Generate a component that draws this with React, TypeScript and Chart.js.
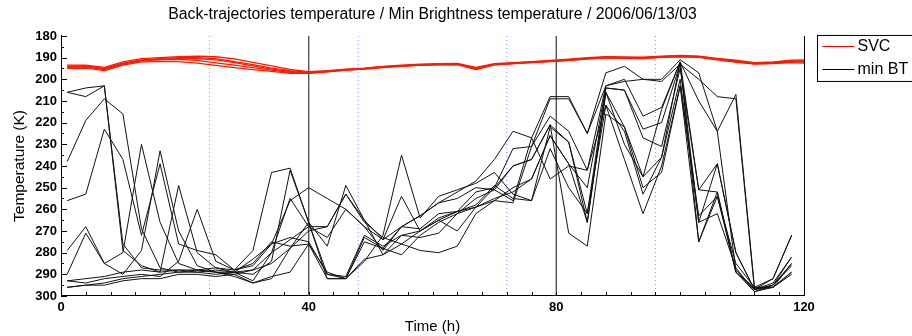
import React, { useEffect, useRef } from "react";
import { Chart, registerables } from "chart.js";
Chart.register(...registerables);

const hours = [1, 4, 7, 10, 13, 16, 19, 22, 25, 28, 31, 34, 37, 40, 43, 46, 49, 52, 55, 58, 61, 64, 67, 70, 73, 76, 79, 82, 85, 88, 91, 94, 97, 100, 103, 106, 109, 112, 115, 118];
const svcHours = [1, 4, 7, 10, 13, 16, 19, 22, 25, 28, 31, 34, 37, 40, 43, 46, 49, 52, 55, 58, 61, 64, 67, 70, 73, 76, 79, 82, 85, 88, 91, 94, 97, 100, 103, 106, 109, 112, 115, 118, 120];

const svc1 = [193.5, 193.5, 194.5, 192, 190.5, 190, 189.5, 189.3, 189.6, 190.6, 192.2, 193.8, 195.4, 196.5, 196, 195.3, 194.8, 194, 193.5, 193, 192.8, 192.7, 194.5, 192.8, 192.3, 191.8, 191.3, 190.7, 190, 189.5, 189.7, 189.8, 189.3, 189, 189.3, 190.3, 191.2, 192.3, 192, 191.2, 191];
const svc2 = [194, 194, 195, 192.5, 191, 190.5, 190, 190, 190.5, 191.8, 193.2, 194.8, 196, 196.8, 196.2, 195.5, 195, 194.2, 193.7, 193.2, 193, 192.9, 195, 193, 192.5, 192, 191.5, 191, 190.3, 189.8, 190, 190, 189.5, 189.2, 189.5, 190.6, 191.6, 192.6, 192.2, 191.6, 191.5];
const svc3 = [194.5, 194.3, 195.5, 193, 191.5, 191, 190.8, 191.3, 192.4, 193.5, 194.6, 195.8, 196.8, 197.1, 196.4, 195.7, 195.2, 194.4, 193.9, 193.4, 193.2, 193.1, 195.3, 193.2, 192.7, 192.2, 191.7, 191.2, 190.5, 190, 190.2, 190.2, 189.7, 189.4, 189.7, 190.8, 191.9, 192.8, 192.5, 192, 192];
const svc4 = [195, 194.8, 196, 193.5, 192, 191.8, 191.8, 192.5, 193.6, 194.6, 195.5, 196.3, 197.2, 197.3, 196.6, 195.8, 195.3, 194.6, 194, 193.5, 193.3, 193.2, 195.5, 193.3, 192.8, 192.3, 191.8, 191.3, 190.7, 190.1, 190.3, 190.4, 189.9, 189.6, 189.9, 191, 192.1, 193, 192.7, 192.3, 192.5];
const svc5 = [194, 193.8, 195.2, 192.8, 191.3, 190.8, 190.3, 190.5, 191, 192.3, 193.8, 195.3, 196.3, 196.9, 196.3, 195.6, 195.1, 194.3, 193.8, 193.3, 193.1, 193, 194.8, 193.1, 192.6, 192.1, 191.6, 191.1, 190.4, 189.9, 190.1, 190.1, 189.6, 189.3, 189.6, 190.7, 191.8, 192.7, 192.3, 191.8, 191.8];

const bt1 = [206, 204, 203, 276, 287, 288, 288, 288, 287, 288, 279, 243, 241, 266, 290, 292, 273, 278, 268, 263, 257, 252, 247, 237, 224, 227, 208, 208, 225, 197, 194, 200, 200, 191, 197, 224, 207, 296, 292, 272];
const bt2 = [206, 208, 203, 279, 286, 289, 288, 289, 288, 289, 283, 276, 256, 250, 255, 260, 268, 274, 254, 270, 265, 261, 259, 250, 232, 231, 217, 224, 242, 203, 200, 217, 213, 192, 275, 252, 289, 297, 295, 282];
const bt3 = [238, 219, 209, 216, 269, 287, 289, 288, 289, 289, 288, 280, 274, 268, 268, 253, 265, 281, 272, 273, 271, 262, 255, 251, 240, 237, 221, 229, 262, 204, 205, 223, 220, 193, 266, 239, 280, 297, 296, 285];
const bt4 = [256, 253, 223, 237, 272, 239, 276, 279, 281, 288, 285, 275, 277, 276, 292, 292, 283, 281, 276, 279, 280, 277, 262, 256, 250, 246, 226, 239, 266, 206, 222, 245, 236, 192, 251, 252, 289, 296, 296, 289];
const bt5 = [279, 268, 285, 280, 230, 266, 285, 288, 289, 290, 294, 291, 289, 276, 289, 292, 284, 272, 235, 264, 254, 251, 248, 243, 253, 256, 232, 250, 262, 212, 237, 262, 240, 203, 263, 254, 289, 298, 295, 286];
const bt6 = [290, 271, 285, 290, 279, 233, 270, 286, 289, 291, 294, 292, 278, 266, 292, 292, 275, 278, 281, 272, 266, 262, 259, 256, 257, 231, 209, 209, 225, 203, 201, 200, 201, 193, 200, 208, 209, 297, 292, 272];
const bt7 = [293, 292, 291, 289, 288, 289, 249, 280, 287, 289, 290, 284, 242, 266, 277, 249, 265, 274, 268, 269, 262, 261, 252, 250, 240, 237, 221, 271, 277, 216, 222, 250, 243, 203, 275, 254, 285, 296, 296, 290];
const bt8 = [293, 294, 292, 291, 290, 291, 284, 260, 284, 288, 286, 276, 273, 275, 290, 291, 272, 277, 272, 270, 265, 270, 259, 255, 252, 246, 226, 239, 250, 204, 205, 227, 231, 195, 251, 239, 280, 297, 295, 285];
const bt9 = [296, 295, 294, 292, 291, 290, 289, 289, 290, 289, 293, 280, 255, 268, 273, 260, 268, 279, 268, 263, 257, 255, 250, 251, 256, 227, 246, 240, 242, 212, 224, 253, 236, 200, 266, 262, 287, 298, 296, 289];
const bt10 = [296, 295, 295, 293, 292, 292, 290, 290, 291, 290, 288, 285, 278, 270, 268, 253, 266, 273, 276, 270, 264, 261, 258, 249, 255, 256, 222, 229, 266, 206, 230, 245, 214, 192, 210, 224, 288, 297, 294, 282];

const svcRuns = [svc1, svc2, svc3, svc4, svc5];
const btRuns = [bt1, bt2, bt3, bt4, bt5, bt6, bt7, bt8, bt9, bt10];
const dottedHours = [24, 48, 72, 96];
const solidHours = [40, 80];
const tempRange = [180, 300];
const xLabelStep = 40;
const yLabelStep = 10;
const titleText = "Back-trajectories temperature / Min Brightness temperature / 2006/06/13/03";
const legendItems = [
  { label: "SVC", color: "#ff0000" },
  { label: "min BT", color: "#000000" },
];

const FONT = "'Liberation Sans', Arial, Helvetica, sans-serif";

const framePlugin = {
  id: "frame",
  afterDraw(chart: any) {
    const { ctx, chartArea } = chart;
    const xs = chart.scales.x;
    const ys = chart.scales.y;
    ctx.save();
    ctx.strokeStyle = "#000";
    ctx.lineWidth = 1;
    ctx.beginPath();
    ctx.moveTo(Math.round(chartArea.right) + 0.5, chartArea.top);
    ctx.lineTo(Math.round(chartArea.right) + 0.5, chartArea.bottom);
    ctx.stroke();
    ctx.beginPath();
    xs.ticks.forEach((t: any) => {
      const px = Math.round(xs.getPixelForValue(t.value)) + 0.5;
      ctx.moveTo(px, chartArea.bottom);
      ctx.lineTo(px, chartArea.bottom - 4);
    });
    ys.ticks.forEach((t: any) => {
      const py = Math.round(ys.getPixelForValue(t.value)) + 0.5;
      const len = t.value % yLabelStep === 0 ? 6 : 3;
      ctx.moveTo(chartArea.left, py);
      ctx.lineTo(chartArea.left + len, py);
    });
    ctx.stroke();
    const lx = chartArea.right + 13.5;
    const ly = chartArea.top - 0.5;
    ctx.strokeStyle = "#000";
    ctx.strokeRect(lx, ly, 140, 46);
    ctx.font = `16px ${FONT}`;
    ctx.textBaseline = "middle";
    legendItems.forEach((it, i) => {
      const y = Math.round(ly + 11 + i * 22.5) + 0.5;
      ctx.strokeStyle = it.color;
      ctx.beginPath();
      ctx.moveTo(lx + 5, y);
      ctx.lineTo(lx + 37, y);
      ctx.stroke();
      ctx.fillStyle = "#000";
      ctx.fillText(it.label, lx + 40, y + 0.5);
    });
    ctx.restore();
  },
};

export default function App() {
  const ref = useRef<HTMLCanvasElement>(null);
  useEffect(() => {
    Chart.defaults.font.family = FONT;
    Chart.defaults.color = "#000";
    const datasets: any[] = [];
    svcRuns.forEach((run, k) => {
      datasets.push({
        label: "SVC " + k,
        data: svcHours.map((h, i) => ({ x: h, y: run[i] })),
        borderColor: "#ff1a00",
        borderWidth: 1.3,
        pointRadius: 0,
        tension: 0,
        order: 1,
      });
    });
    btRuns.forEach((run, k) => {
      datasets.push({
        label: "min BT " + k,
        data: hours.map((h, i) => ({ x: h, y: run[i] })),
        borderColor: "#111",
        borderWidth: 1,
        pointRadius: 0,
        tension: 0,
        order: 2,
      });
    });
    solidHours.forEach((h) => {
      datasets.push({
        label: "solid " + h,
        data: [{ x: h, y: tempRange[0] }, { x: h, y: tempRange[1] }],
        borderColor: "#555",
        borderWidth: 1,
        pointRadius: 0,
        order: 5,
      });
    });
    dottedHours.forEach((h) => {
      datasets.push({
        label: "dotted " + h,
        data: [{ x: h, y: tempRange[0] }, { x: h, y: tempRange[1] }],
        borderColor: "#7f8fff",
        borderWidth: 1,
        borderDash: [1, 3],
        pointRadius: 0,
        order: 5,
      });
    });

    const chart = new Chart(ref.current as HTMLCanvasElement, {
      type: "line",
      data: { datasets },
      plugins: [framePlugin],
      options: {
        animation: false,
        responsive: false,
        events: [],
        layout: { padding: { left: 0, right: 108, top: 0, bottom: 0 } },
        plugins: {
          legend: { display: false },
          tooltip: { enabled: false },
          title: {
            display: true,
            text: titleText,
            fullSize: false,
            color: "#000",
            font: { size: 15.8, weight: "normal", family: FONT },
            padding: { top: 5, bottom: 12 },
          },
        },
        scales: {
          x: {
            type: "linear",
            min: 0,
            max: 120,
            grid: { display: false, drawTicks: false },
            border: { display: true, color: "#000", width: 1 },
            ticks: {
              stepSize: 4,
              autoSkip: false,
              maxRotation: 0,
              padding: 4,
              font: { size: 13, weight: "bold", family: FONT },
              color: "#000",
              callback: (v: any) => (v % xLabelStep === 0 ? String(v) : ""),
            },
            title: {
              display: true,
              text: "Time (h)",
              font: { size: 15, family: FONT },
              color: "#000",
              padding: { top: 0, bottom: 0 },
            },
            afterFit: (s: any) => {
              s.height = 40;
            },
          },
          y: {
            type: "linear",
            reverse: true,
            min: tempRange[0],
            max: tempRange[1],
            grid: { display: false, drawTicks: false },
            border: { display: true, color: "#000", width: 1 },
            ticks: {
              stepSize: 5,
              autoSkip: false,
              padding: 4,
              font: { size: 13, weight: "bold", family: FONT },
              color: "#000",
              callback: (v: any) => (v % yLabelStep === 0 ? String(v) : ""),
            },
            title: {
              display: true,
              text: "Temperature (K)",
              font: { size: 15.5, family: FONT },
              color: "#000",
              padding: { top: 10, bottom: 0 },
            },
            afterFit: (s: any) => {
              s.width = 61;
            },
          },
        },
      },
    });
    return () => chart.destroy();
  }, []);
  return (
    <div style={{ position: "absolute", left: 0, top: 0, width: 912, height: 336, background: "#fff", overflow: "hidden" }}>
      <canvas ref={ref} width={912} height={336} style={{ width: 912, height: 336, display: "block" }} />
    </div>
  );
}
